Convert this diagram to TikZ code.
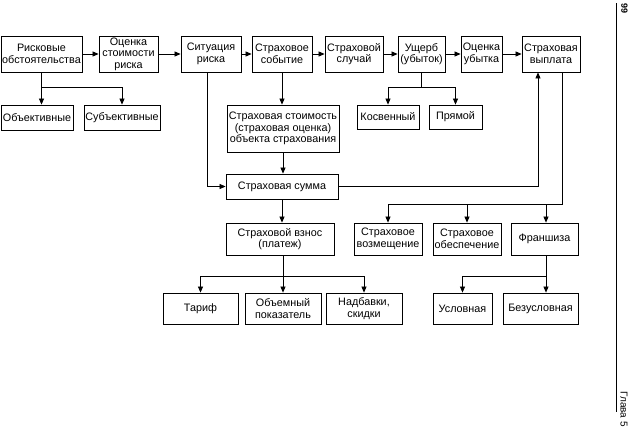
\documentclass[tikz,border=0pt]{standalone}
\usepackage{fontspec}
\setmainfont{Liberation Sans}
\usetikzlibrary{arrows.meta}
\tikzset{
  box/.style={draw, line width=0.8pt, align=center, inner sep=1pt,
    font=\fontsize{10.8}{11.5}\selectfont},
  link/.style={line width=0.7pt},
  >={Triangle[length=6pt,width=5pt]}
}
\begin{document}
\begin{tikzpicture}[x=1pt, y=-1pt]
  \useasboundingbox (0,0) rectangle (630,434);
  % top row
  \node[box, minimum width=81pt, minimum height=36pt] (RO) at (41.5,54) {Рисковые\\обстоятельства};
  \node[box, minimum width=59pt, minimum height=36pt] (OS) at (128.5,54) {Оценка\\стоимости\\риска};
  \node[box, minimum width=60pt, minimum height=36pt] (SR) at (211,54) {Ситуация\\риска};
  \node[box, minimum width=60pt, minimum height=36pt] (SS) at (282,54) {Страховое\\событие};
  \node[box, minimum width=58pt, minimum height=36pt] (SC) at (354,54) {Страховой\\случай};
  \node[box, minimum width=47pt, minimum height=36pt] (UU) at (421.5,54) {Ущерб\\(убыток)};
  \node[box, minimum width=41pt, minimum height=36pt] (OU) at (481.5,54) {Оценка\\убытка};
  \node[box, minimum width=58pt, minimum height=36pt] (SV) at (551,54) {Страховая\\выплата};
  % second row
  \node[box, minimum width=72pt, minimum height=25pt] (Ob) at (37,117.5) {Объективные};
  \node[box, minimum width=76pt, minimum height=25pt] (Sb) at (122,117.5) {Субъективные};
  \node[box, minimum width=112pt, minimum height=47pt] (ST) at (283,128.5) {Страховая стоимость\\(страховая оценка)\\объекта страхования};
  \node[box, minimum width=62pt, minimum height=24pt] (Ks) at (388,117) {Косвенный};
  \node[box, minimum width=53pt, minimum height=24pt] (Pr) at (455.5,117) {Прямой};
  % sum
  \node[box, minimum width=112pt, minimum height=25pt] (SM) at (282,186.5) {Страховая сумма};
  % fourth row
  \node[box, minimum width=108pt, minimum height=32pt] (VZ) at (280,239) {Страховой взнос\\(платеж)};
  \node[box, minimum width=68pt, minimum height=32pt] (VM) at (388,239) {Страховое\\возмещение};
  \node[box, minimum width=68pt, minimum height=32pt] (OB) at (467,239) {Страховое\\обеспечение};
  \node[box, minimum width=67pt, minimum height=32pt] (FR) at (544.5,239) {Франшиза};
  % bottom row
  \node[box, minimum width=75pt, minimum height=31pt] (TR) at (200.5,308.5) {Тариф};
  \node[box, minimum width=76pt, minimum height=31pt] (OP) at (283,308.5) {Объемный\\показатель};
  \node[box, minimum width=76pt, minimum height=31pt] (NS) at (364,308.5) {Надбавки,\\скидки};
  \node[box, minimum width=59pt, minimum height=31pt] (US) at (462.5,308.5) {Условная};
  \node[box, minimum width=75pt, minimum height=31pt] (BU) at (540.5,308.5) {Безусловная};
  % branch levels
  \coordinate (b1) at (0,87);
  \coordinate (b3) at (0,204);
  \coordinate (b5) at (0,276);
  % top chain
  \draw[link,->] (RO) -- (OS);
  \draw[link,->] (OS) -- (SR);
  \draw[link,->] (SR) -- (SS);
  \draw[link,->] (SS) -- (SC);
  \draw[link,->] (SC) -- (UU);
  \draw[link,->] (UU) -- (OU);
  \draw[link,->] (OU) -- (SV);
  % risk branches
  \draw[link,->] (RO.south) -- (RO.south |- Ob.north);
  \draw[link,->] (RO |- b1) -| (Sb.north);
  \draw[link,->] (UU.south) |- (b1 -| Pr) -- (Pr.north);
  \draw[link,->] (UU |- b1) -| (Ks.north);
  % sum
  \draw[link,->] (SS.south) -- (SS.south |- ST.north);
  \draw[link,->] (ST.south) -- (ST.south |- SM.north);
  \draw[link,->] ([xshift=-4pt]SR.south) |- (SM.west);
  \draw[link,->] (SM.east) -| ([xshift=-13pt]SV.south);
  % payment branches
  \draw[link] ([xshift=11pt]SV.south) |- (VM |- b3);
  \draw[link,->] (VM |- b3) -- (VM.north);
  \draw[link,->] (OB |- b3) -- (OB.north);
  \draw[link,->] ([xshift=1.5pt]FR.north |- b3) -- ([xshift=1.5pt]FR.north);
  \draw[link,->] (SM.south) -- (SM.south |- VZ.north);
  % premium branches
  \draw[link,->] (OP |- VZ.south) -- (OP.north);
  \draw[link,->] (OP |- b5) -| (TR.north);
  \draw[link,->] (OP |- b5) -| (NS.north);
  \draw[link,->] ([xshift=1.5pt]FR.south) -- ([xshift=1.5pt]FR.south |- BU.north);
  \draw[link,->] ([xshift=1.5pt]FR.south |- b5) -| (US.north);
  % page margin
  \draw[line width=0.7pt] (616,3) -- (616,412);
  \node[rotate=-90, font=\fontsize{9}{10}\selectfont\bfseries, inner sep=0pt] (pg) at (624.5,9) {99};
  \node[rotate=-90, font=\fontsize{10}{11}\selectfont, inner sep=0pt] (gl) at (624,409) {Глава 5};
\end{tikzpicture}
\end{document}
